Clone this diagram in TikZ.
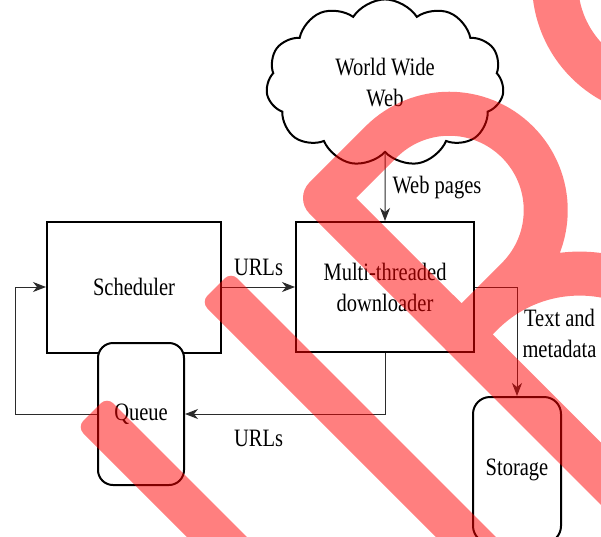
\documentclass[tikz,border=0pt]{standalone}
\usepackage{fontspec}
\setmainfont{Liberation Serif}[FakeStretch=0.82]
\usepackage{tikz}
\usetikzlibrary{shapes.symbols, arrows.meta, positioning, calc}
\definecolor{inkblack}{HTML}{000000}
\definecolor{flowgray}{HTML}{2B2B2B}
\definecolor{markred}{HTML}{FF0000}

\begin{document}
\begin{tikzpicture}[
  x=1pt, y=-1pt,
  font=\fontsize{25}{31}\selectfont,
  block/.style={rectangle, draw=inkblack, line width=2pt, fill=white, align=center},
  drum/.style={block, rounded corners=#1},
  flow/.style={draw=flowgray, line width=1pt, -{Stealth[length=13pt, width=10pt, inset=4pt]}},
  tag/.style={align=center, inner sep=3pt},
  redmark/.style={markred, opacity=0.5}
]
  \path[use as bounding box, fill=white] (0,0) rectangle (601,536);

  % Crawler parts
  \node[block, minimum width=174pt, minimum height=131pt] (sched) at (134,287) {Scheduler};
  \node[block, minimum width=178pt, minimum height=130pt] (down) at (385,287) {Multi-threaded\\downloader};
  \node[drum=15pt, minimum width=86pt, minimum height=142pt] (queue) at (141,414) {Queue};
  \node[drum=17pt, minimum width=88pt, minimum height=146pt] (store) at (517,470) {Storage};
  \node[cloud, draw=inkblack, line width=2pt, fill=white, cloud puffs=11, cloud puff arc=115,
    minimum width=238pt, minimum height=137pt, align=center] (web) at (385,83) {World Wide\\Web};

  % Flows
  \draw[flow] (web.south) -- node[tag, right=4pt]{Web pages} (down.north);
  \draw[flow] (sched.east) -- node[tag, above=8pt]{URLs} (down.west);
  \draw[flow] (down.south) |- node[tag, pos=0.816, below=13pt]{URLs} (queue.east);
  \draw[flow] (down.east) -| node[tag, pos=0.714, right=2pt]{Text and\\metadata} (store.north);
  \coordinate (back) at (15,287);
  \draw[flow] (queue.west) -| (back) -- (sched.west);

  % Overlay
  \begin{scope}
    \clip (0,0) rectangle (601,536);
    \fill[redmark, rounded corners=9pt] (107,397) -- (77,427) -- (277,627) -- (307,597) -- cycle;
    \fill[redmark, rounded corners=9pt] (231,272) -- (201,302) -- (501,602) -- (531,572) -- cycle;
    \draw[redmark, line width=44pt, line join=round] (325,198) -- (381,142)
      arc[start angle=135, end angle=-45, radius=96.5pt] -- (461.5,334.5) -- (482,314)
      arc[start angle=135, end angle=-45, radius=138pt] -- (657,529.6) -- cycle;
    \draw[redmark, line width=46pt] (666,-17) circle[radius=111pt];
  \end{scope}
\end{tikzpicture}
\end{document}
